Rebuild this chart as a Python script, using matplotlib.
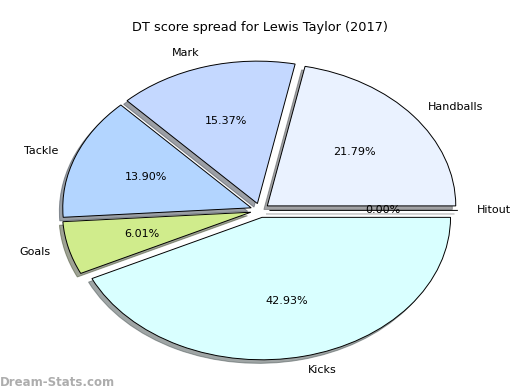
import matplotlib
matplotlib.use('Agg')
import matplotlib.pyplot as plt

labels = ['Handballs', 'Mark', 'Tackle', 'Goals', 'Kicks', 'Hitout']
values = [21.79, 15.37, 13.90, 6.01, 42.93, 0.00]
colors = ['#EAF2FF', '#C4D8FF', '#B3D5FF', '#D0EC8C', '#D9FFFF', '#FFFFFF']
explode = [0.05, 0.05, 0.05, 0.05, 0.05, 0.05]

fig = plt.figure(figsize=(5.2, 3.9), dpi=100)
ax = fig.add_axes([0.047, 0.004, 0.906, 0.913])

# shadow offset is in data units, so keep it small to match the ~3px offset
wedges, texts, autotexts = ax.pie(values, labels=labels, colors=colors, explode=explode,
                                  autopct='%.2f%%', startangle=0,
                                  shadow={'ox': -0.013, 'oy': -0.018},
                                  wedgeprops={'edgecolor': 'black', 'linewidth': 0.7},
                                  textprops={'fontsize': 8})
ax.set_aspect('auto')
ax.set_xlim(-1.25, 1.25)
ax.set_ylim(-1.25, 1.25)

fig.suptitle('DT score spread for Lewis Taylor (2017)', fontsize=9.3, y=0.945)
fig.text(0.0, 0.01, 'Dream-Stats.com', color='#999999', fontsize=8.5, fontweight='bold', alpha=0.8)

fig.savefig('out.png', dpi=100)
